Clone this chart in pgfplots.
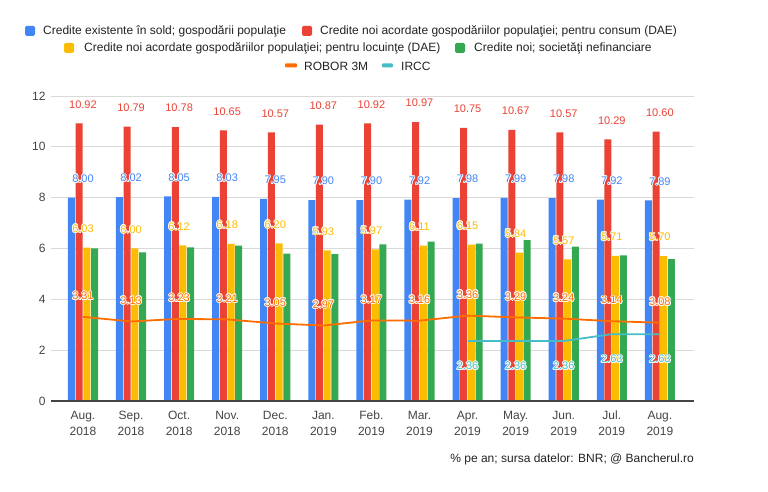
\documentclass[border=0pt]{standalone}
\usepackage{pgfplots}
\pgfplotsset{compat=1.18}
\usepackage{fontspec}
\setmainfont{Liberation Sans}
\definecolor{cblue}{HTML}{4285F4}
\definecolor{cred}{HTML}{EA4335}
\definecolor{cyellow}{HTML}{FBBC04}
\definecolor{cgreen}{HTML}{34A853}
\definecolor{corange}{HTML}{FF6D01}
\definecolor{cteal}{HTML}{46BDC6}
\definecolor{cgrid}{HTML}{D9D9D9}
\definecolor{ctext}{HTML}{444444}
\definecolor{cleg}{HTML}{222222}
\newcommand\hl[3]{\rlap{\hspace*{#1}\raisebox{#2}{\textcolor{white}{#3}}}}
\newcommand\halo[1]{\hl{0.9pt}{0pt}{#1}\hl{-0.9pt}{0pt}{#1}\hl{0pt}{0.9pt}{#1}\hl{0pt}{-0.9pt}{#1}\hl{0.65pt}{0.65pt}{#1}\hl{-0.65pt}{0.65pt}{#1}\hl{0.65pt}{-0.65pt}{#1}\hl{-0.65pt}{-0.65pt}{#1}#1}
\newcommand\lbl{\halo{\pgfmathprintnumber[fixed,fixed zerofill,precision=2]{\pgfplotspointmeta}}}
\newcommand\tl[2]{\strut #1\\\strut #2}
\begin{document}
\begin{tikzpicture}[x=1pt,y=1pt]
\useasboundingbox (0,0) rectangle (768,492);
\begin{axis}[at={(51pt,91pt)}, anchor=south west, scale only axis,
  width=643pt, height=305pt,
  xmin=-0.665, xmax=12.71, ymin=0, ymax=12,
  ytick={0,2,...,12}, xtick={0,...,12},
  xticklabels={{\tl{Aug.}{2018}},{\tl{Sep.}{2018}},{\tl{Oct.}{2018}},{\tl{Nov.}{2018}},{\tl{Dec.}{2018}},{\tl{Jan.}{2019}},{\tl{Feb.}{2019}},{\tl{Mar.}{2019}},{\tl{Apr.}{2019}},{\tl{May.}{2019}},{\tl{Jun.}{2019}},{\tl{Jul.}{2019}},{\tl{Aug.}{2019}}},
  axis line style={draw=none},
  major tick length=0pt,
  ymajorgrids, grid style={cgrid, line width=0.8pt},
  tick label style={font=\fontsize{12}{16}\selectfont, text=ctext},
  yticklabel style={xshift=-2pt},
  xticklabel style={align=center, anchor=north, inner sep=0pt, yshift=-7pt},
  /pgf/number format/assume math mode=true,
  every node near coord/.append style={font=\fontsize{11}{13}\selectfont, anchor=center},
  clip=false,
]
\addplot[ybar, bar width=7pt, bar shift=-11.55pt, fill=cblue, draw=none,
  nodes near coords=\lbl, nodes near coords style={text=cblue, yshift=19pt}]
 coordinates {(0,8.00)(1,8.02)(2,8.05)(3,8.03)(4,7.95)(5,7.90)(6,7.90)(7,7.92)(8,7.98)(9,7.99)(10,7.98)(11,7.92)(12,7.89)};
\addplot[ybar, bar width=7pt, bar shift=-3.85pt, fill=cred, draw=none,
  nodes near coords=\lbl, nodes near coords style={text=cred, yshift=19pt}]
 coordinates {(0,10.92)(1,10.79)(2,10.78)(3,10.65)(4,10.57)(5,10.87)(6,10.92)(7,10.97)(8,10.75)(9,10.67)(10,10.57)(11,10.29)(12,10.60)};
\addplot[ybar, bar width=7pt, bar shift=3.85pt, fill=cyellow, draw=none,
  nodes near coords=\lbl, nodes near coords style={text=cyellow, yshift=19pt}]
 coordinates {(0,6.03)(1,6.00)(2,6.12)(3,6.18)(4,6.20)(5,5.93)(6,5.97)(7,6.11)(8,6.15)(9,5.84)(10,5.57)(11,5.71)(12,5.70)};
\addplot[ybar, bar width=7pt, bar shift=11.55pt, fill=cgreen, draw=none]
 coordinates {(0,6.00)(1,5.85)(2,6.04)(3,6.11)(4,5.80)(5,5.78)(6,6.16)(7,6.27)(8,6.19)(9,6.33)(10,6.07)(11,5.73)(12,5.58)};
\draw[ctext, line width=1.2pt] (axis cs:-0.665,0) -- (axis cs:12.71,0);
\addplot[sharp plot, corange, line width=1.8pt, mark=none,
  nodes near coords=\lbl, nodes near coords style={text=corange, yshift=21pt}]
 coordinates {(0,3.31)(1,3.13)(2,3.23)(3,3.21)(4,3.05)(5,2.97)(6,3.17)(7,3.16)(8,3.36)(9,3.29)(10,3.24)(11,3.14)(12,3.08)};
\addplot[sharp plot, cteal, line width=1.8pt, mark=none,
  nodes near coords=\lbl, nodes near coords style={text=cteal, yshift=-25pt}]
 coordinates {(8,2.36)(9,2.36)(10,2.36)(11,2.63)(12,2.63)};
\end{axis}
% legend
\begin{scope}[every node/.style={anchor=west, inner sep=0pt, font=\fontsize{12}{14}\selectfont, text=cleg}]
\fill[cblue, rounded corners=1.5pt] (25,456) rectangle (35,466);
\node at (43,461) {Credite existente în sold; gospodării populaţie};
\fill[cred, rounded corners=1.5pt] (302,456) rectangle (312,466);
\node at (320,461) {Credite noi acordate gospodăriilor populaţiei; pentru consum (DAE)};
\fill[cyellow, rounded corners=1.5pt] (64,439) rectangle (74,449);
\node at (84,444) {Credite noi acordate gospodăriilor populaţiei; pentru locuinţe (DAE)};
\fill[cgreen, rounded corners=1.5pt] (455,439) rectangle (465,449);
\node at (474,444) {Credite noi; societăţi nefinanciare};
\fill[corange, rounded corners=1pt] (285,424.5) rectangle (297,428.5);
\node at (304,426) {ROBOR 3M};
\fill[cteal, rounded corners=1pt] (382,424.5) rectangle (393,428.5);
\node at (401,426) {IRCC};
\node[anchor=east] at (694,33) {\% pe an; sursa datelor: BNR; @ Bancherul.ro};
\end{scope}
\end{tikzpicture}
\end{document}
